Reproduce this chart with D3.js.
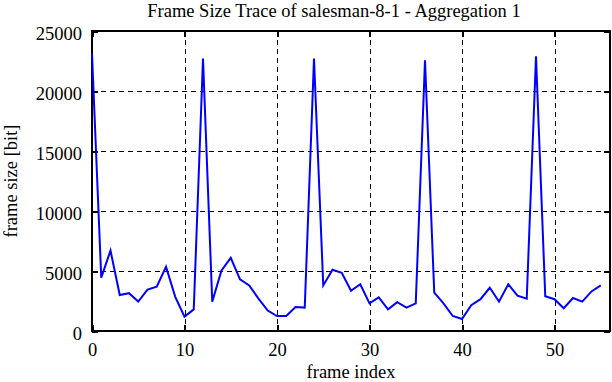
<!DOCTYPE html>
<html lang="en">
<head>
<meta charset="UTF-8" />
<title>Frame Size Trace</title>
<script src="https://d3js.org/d3.v7.min.js"></script>
<style>
    body { margin: 0; background: #fff; }
    text { font-family: "Liberation Serif", "DejaVu Serif", serif; fill: #000; }
    .grid line { stroke: #000; stroke-width: 1; stroke-dasharray: 5, 4; shape-rendering: crispEdges; }
    .axis path { display: none; }
    .axis line { stroke: #000; stroke-width: 2; shape-rendering: crispEdges; }
    .axis text { font-size: 18.5px; }
</style>
</head>
<body>
<script>
    // frame sizes in bit, frame index 0..55
    var frameSize = [
        23100, 4450, 6700, 3000, 3150, 2450, 3450, 3700, 5350, 2850,
        1200, 1800, 22700, 2450, 5050, 6100, 4300, 3800, 2700, 1700,
        1250, 1250, 2000, 1950, 22700, 3800, 5100, 4850, 3350, 3900,
        2300, 2800, 1800, 2400, 1950, 2300, 22550, 3200, 2300, 1250,
        1000, 2150, 2650, 3600, 2450, 3900, 2950, 2700, 22900, 2900,
        2650, 1900, 2750, 2450, 3300, 3800
    ];
    var xTicks = [0, 10, 20, 30, 40, 50];
    var yTicks = [0, 5000, 10000, 15000, 20000, 25000];

    var W = 612, H = 382;
    var margin = { top: 31, right: 2, bottom: 51, left: 92 };
    var w = W - margin.left - margin.right, h = H - margin.top - margin.bottom;

    var svg = d3.select("body").append("svg")
        .attr("width", W)
        .attr("height", H);

    var x = d3.scaleLinear().domain([0, 56]).range([0, w]);
    var y = d3.scaleLinear().domain([0, 25000]).range([h, 0]);

    var g = svg.append("g")
        .attr("transform", "translate(" + margin.left + "," + margin.top + ")");

    // dashed grid
    var grid = g.append("g").attr("class", "grid");
    grid.selectAll(".gx").data(xTicks.slice(1)).enter().append("line")
        .attr("x1", function (d) { return Math.round(x(d)); })
        .attr("x2", function (d) { return Math.round(x(d)); })
        .attr("y1", 0).attr("y2", h);
    grid.selectAll(".gy").data(yTicks.slice(1, -1)).enter().append("line")
        .attr("x1", 0).attr("x2", w)
        .attr("y1", function (d) { return Math.round(y(d)); })
        .attr("y2", function (d) { return Math.round(y(d)); });

    // axes with inward ticks, mirrored
    g.append("g").attr("class", "axis")
        .attr("transform", "translate(0," + h + ")")
        .call(d3.axisBottom(x).tickValues(xTicks).tickSizeInner(-6).tickSizeOuter(0).tickPadding(12).tickFormat(d3.format("d")));
    g.append("g").attr("class", "axis")
        .call(d3.axisTop(x).tickValues(xTicks).tickSizeInner(-6).tickSizeOuter(0).tickFormat(""));
    g.append("g").attr("class", "axis")
        .call(d3.axisLeft(y).tickValues(yTicks).tickSizeInner(-6).tickSizeOuter(0).tickPadding(10).tickFormat(d3.format("d")))
        .selectAll("text").attr("dy", "0.45em");
    g.append("g").attr("class", "axis")
        .attr("transform", "translate(" + w + ",0)")
        .call(d3.axisRight(y).tickValues(yTicks).tickSizeInner(-6).tickSizeOuter(0).tickFormat(""));

    // frame
    g.append("rect")
        .attr("width", w).attr("height", h)
        .attr("fill", "none").attr("stroke", "#000").attr("stroke-width", 2);

    var line = d3.line()
        .x(function (d, i) { return x(i); })
        .y(function (d) { return y(d); });

    g.append("path")
        .datum(frameSize)
        .attr("fill", "none")
        .attr("stroke", "#0000ff")
        .attr("stroke-width", 2)
        .attr("d", line);

    svg.append("text")
        .attr("x", 334).attr("y", 17)
        .attr("text-anchor", "middle")
        .style("font-size", "18.5px")
        .text("Frame Size Trace of salesman-8-1 - Aggregation 1");

    svg.append("text")
        .attr("x", margin.left + w / 2).attr("y", 378)
        .attr("text-anchor", "middle")
        .style("font-size", "18.5px")
        .text("frame index");

    svg.append("text")
        .attr("transform", "translate(17," + (margin.top + h / 2) + ") rotate(-90)")
        .attr("text-anchor", "middle")
        .style("font-size", "18.5px")
        .text("frame size [bit]");
</script>
</body>
</html>
